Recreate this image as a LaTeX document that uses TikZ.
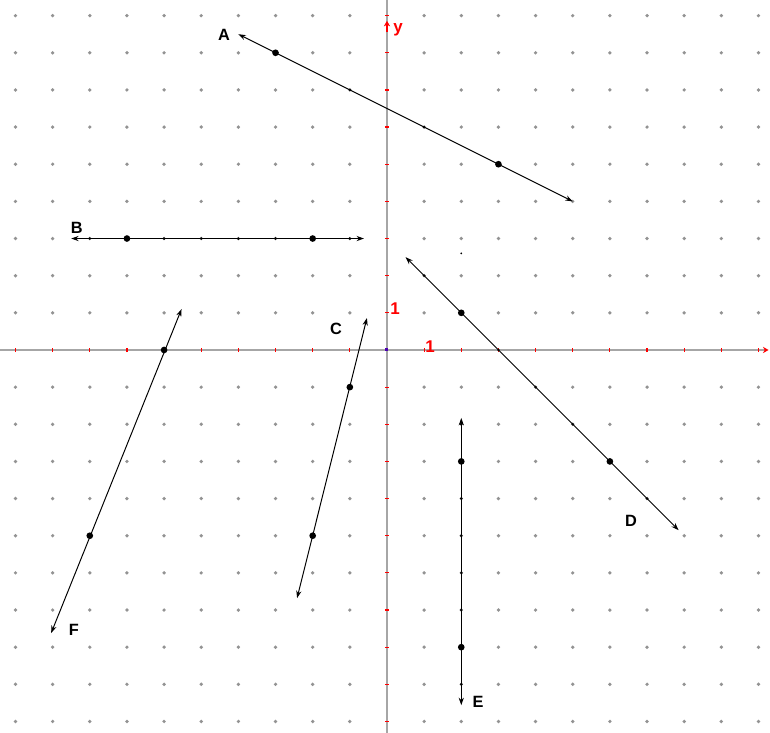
\documentclass[tikz,border=0pt]{standalone}
\usepackage{fontspec}
\setmainfont{Liberation Sans}
\usetikzlibrary{arrows.meta}
\begin{document}
\begin{tikzpicture}[x=1cm,y=1cm,
  gdot/.style={circle,fill=gray!85,inner sep=0pt,minimum size=1.0mm},
  pt/.style={circle,fill=black,inner sep=0pt,minimum size=1.8mm},
  lat/.style={circle,fill=black,inner sep=0pt,minimum size=0.75mm},
  ln/.style={line width=0.75pt,{Stealth[length=2mm,width=1.4mm]}-{Stealth[length=2mm,width=1.4mm]}},
  axisline/.style={gray!70,line width=1.3pt},
  rtick/.style={red,line width=0.9pt},
  lbl/.style={font=\fontsize{12.5}{13}\selectfont\bfseries,inner sep=0pt},
  rlbl/.style={font=\fontsize{13}{13}\selectfont\bfseries,text=red,inner sep=0pt}]
\useasboundingbox[fill=white] (-10.417,-10.310) rectangle (10.310,9.421);
% grid dots
\foreach \x in {-10,...,10}{
  \foreach \y in {-10,...,9}{
    \ifnum\x=0 \else\ifnum\y=0 \else
      \node[gdot] (g\x\y) at (\x,\y) {};
    \fi\fi
  }
}
% axes
\coordinate (xl) at (-10.417,0);
\coordinate (xr) at (10.27,0);
\coordinate (yb) at (0,-10.31);
\coordinate (yt) at (0,9.421);
\draw[axisline,-{Stealth[length=1.5mm,width=1.7mm,color=red]}] (xl) -- (xr);
\draw[axisline] (yb) -- (yt);
\coordinate (ya0) at (0,8.55);
\coordinate (ya1) at (0,8.86);
\draw[red,line width=1pt,-{Stealth[length=1.5mm,width=1.7mm]}] (ya0) -- (ya1);
\foreach \i in {-10,...,10}{
  \ifnum\i=0 \else
  \draw[rtick] (\i,-0.06) -- (\i,0.06);
  \fi
}
\foreach \i in {-10,...,9}{
  \ifnum\i=0 \else
  \draw[rtick] (-0.06,\i) -- (0.06,\i);
  \fi
}
\node[fill=blue!70!red,inner sep=0pt,minimum size=0.8mm] (O) at (0,0) {};
\node[rlbl] (ylab) at (0.30,8.62) {y};
\node[rlbl] (one-y) at (0.22,1.10) {1};
\node[rlbl] (one-x) at (1.16,0.08) {1};
% line A
\coordinate (A1) at (-4,8.5);
\coordinate (A2) at (5,4);
\draw[ln] (A1) -- (A2);
\foreach \p in {(-1,7),(1,6)} \node[lat] at \p {};
\node[pt] (Ap) at (-3,8) {};
\node[pt] (Aq) at (3,5) {};
\node[lbl] (Alab) at (-4.39,8.48) {A};
% line B
\coordinate (B1) at (-8.5,3);
\coordinate (B2) at (-0.62,3);
\draw[ln] (B1) -- (B2);
\foreach \x in {-8,-6,-5,-4,-3,-1} \node[lat] at (\x,3) {};
\node[pt] (Bp) at (-7,3) {};
\node[pt] (Bq) at (-2,3) {};
\node[lbl] (Blab) at (-8.35,3.28) {B};
% line C
\coordinate (C1) at (-2.42,-6.68);
\coordinate (C2) at (-0.54,0.86);
\draw[ln] (C1) -- (C2);
\node[pt] (Cp) at (-1,-1) {};
\node[pt] (Cq) at (-2,-5) {};
\node[lbl] (Clab) at (-1.37,0.57) {C};
% line D
\coordinate (D1) at (0.5,2.5);
\coordinate (D2) at (7.85,-4.85);
\draw[ln] (D1) -- (D2);
\foreach \p in {(1,2),(3,0),(4,-1),(5,-2),(7,-4)} \node[lat] at \p {};
\node[pt] (Dp) at (2,1) {};
\node[pt] (Dq) at (6,-3) {};
\node[lbl] (Dlab) at (6.57,-4.6) {D};
\node[circle,fill=black,inner sep=0pt,minimum size=0.5mm] (stray) at (2,2.6) {};
% line E
\coordinate (E1) at (2,-1.83);
\coordinate (E2) at (2,-9.56);
\draw[ln] (E1) -- (E2);
\foreach \y in {-2,-4,-5,-6,-7,-9} \node[lat] at (2,\y) {};
\node[pt] (Ep) at (2,-3) {};
\node[pt] (Eq) at (2,-8) {};
\node[lbl] (Elab) at (2.45,-9.48) {E};
% line F
\coordinate (F1) at (-9.04,-7.62);
\coordinate (F2) at (-5.53,1.1);
\draw[ln] (F1) -- (F2);
\node[pt] (Fp) at (-6,0) {};
\node[pt] (Fq) at (-8,-5) {};
\node[lbl] (Flab) at (-8.43,-7.54) {F};
\end{tikzpicture}
\end{document}
